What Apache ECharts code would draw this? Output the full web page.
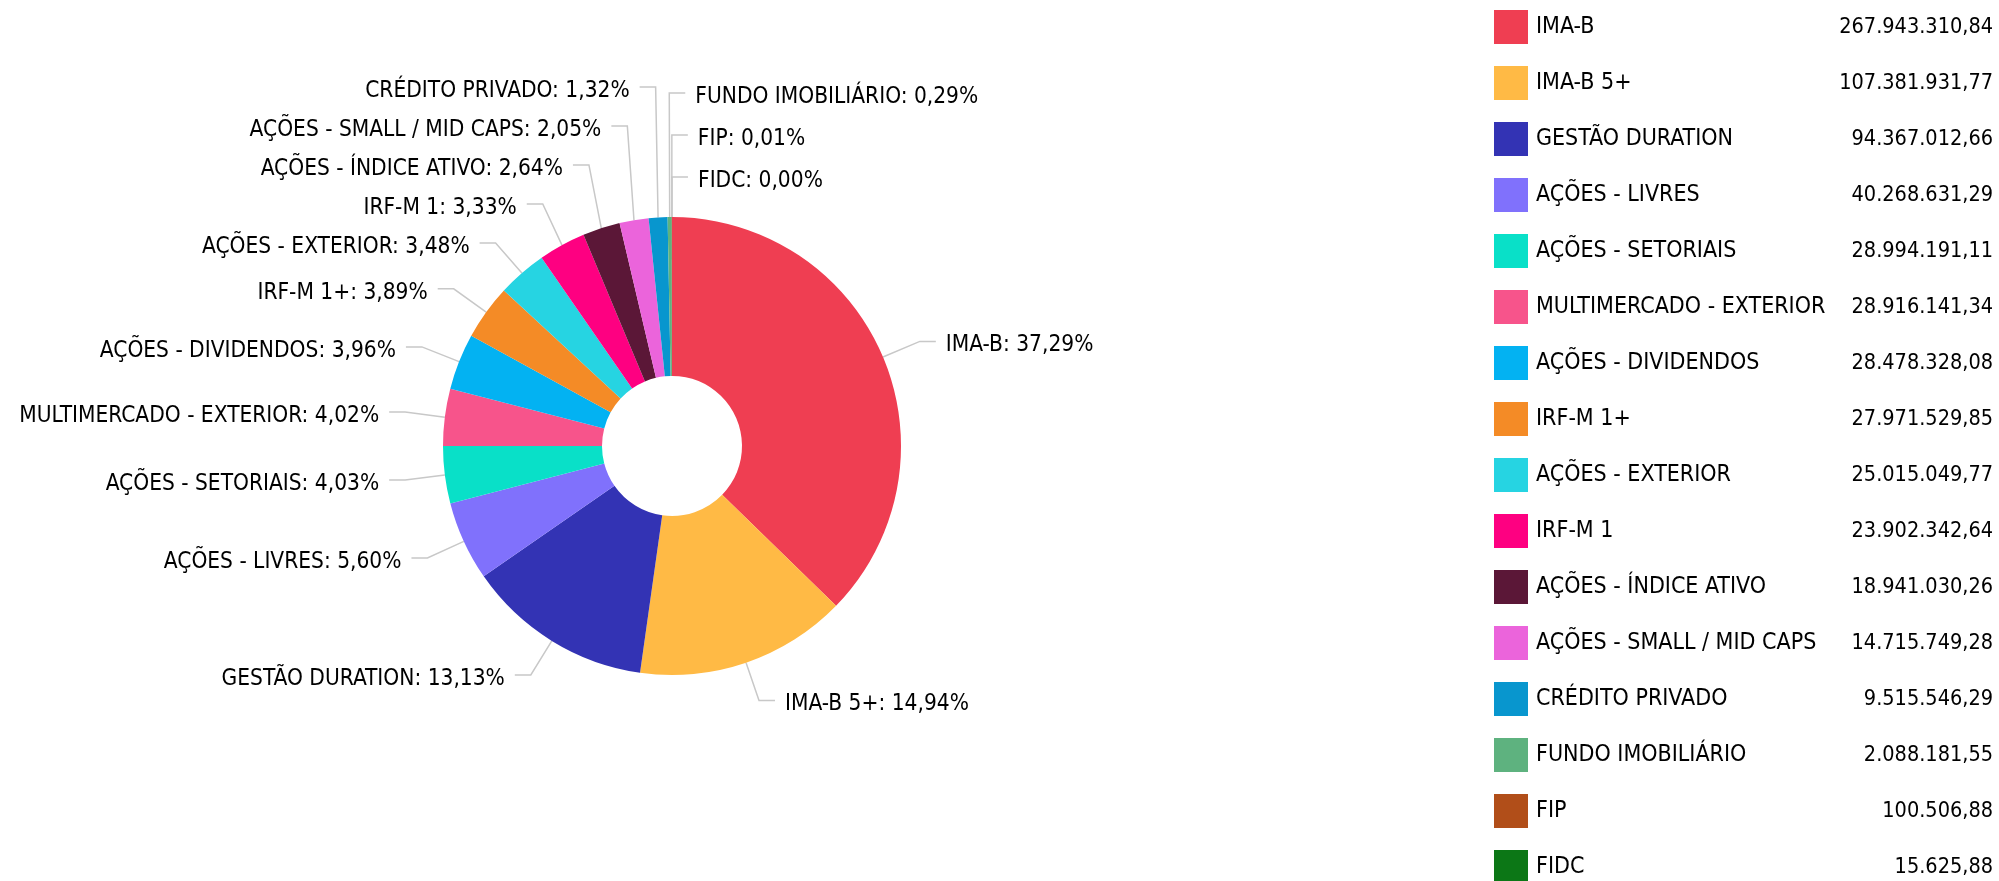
<!DOCTYPE html>
<html>
<head>
<meta charset="utf-8">
<title>Carteira por segmento</title>
<script src="https://cdn.jsdelivr.net/npm/echarts@6/dist/echarts.min.js"></script>
<style>
    html, body { margin: 0; padding: 0; background: #fff; }
    #pieChart { width: 1999px; height: 881px; }
</style>
</head>
<body>
<div id="pieChart"></div>
<script>
    // dados da carteira
    var segments = [
        'IMA-B', 'IMA-B 5+', 'GESTÃO DURATION', 'AÇÕES - LIVRES', 'AÇÕES - SETORIAIS',
        'MULTIMERCADO - EXTERIOR', 'AÇÕES - DIVIDENDOS', 'IRF-M 1+', 'AÇÕES - EXTERIOR', 'IRF-M 1',
        'AÇÕES - ÍNDICE ATIVO', 'AÇÕES - SMALL / MID CAPS', 'CRÉDITO PRIVADO', 'FUNDO IMOBILIÁRIO', 'FIP', 'FIDC'
    ];
    var amounts = [
        267943310.84, 107381931.77, 94367012.66, 40268631.29, 28994191.11,
        28916141.34, 28478328.08, 27971529.85, 25015049.77, 23902342.64,
        18941030.26, 14715749.28, 9515546.29, 2088181.55, 100506.88, 15625.88
    ];
    var colors = [
        '#ef3e52', '#ffba45', '#3333b4', '#8071fc', '#09e0c8',
        '#f7548b', '#03b2f2', '#f48b26', '#26d4e2', '#fe0081',
        '#5b1737', '#eb64db', '#0896ce', '#5eb27f', '#b14e19', '#0c7716'
    ];

    var FONT = "'DejaVu Sans Condensed', 'DejaVu Sans', sans-serif";
    var CX = 672, CY = 446, R_IN = 70, R_OUT = 229;
    var LEN1 = 40, LEN2 = 16, GAP = 10;
    var ROW_LEFT = 39, ROW_RIGHT = 42, TEXT_DY = 4;

    var total = amounts.reduce(function (s, v) { return s + v; }, 0);

    function fmtBR(v) {
        var parts = v.toFixed(2).split('.');
        var int = parts[0].replace(/\B(?=(\d{3})+(?!\d))/g, '.');
        return int + ',' + parts[1];
    }
    function pct(v) {
        return (v / total * 100).toFixed(2).replace('.', ',');
    }

    // posicoes dos rotulos: ponto na borda, cotovelo e lado (como no grafico original)
    function buildLabelPos() {
        var acc = 0;
        var items = amounts.map(function (v, i) {
            var a = (acc + v / 2) / total * 2 * Math.PI;
            acc += v;
            var s = Math.sin(a), c = Math.cos(a);
            return {
                i: i,
                a: a,
                right: s > -0.02,
                ex: CX + R_OUT * s,
                ey: CY - R_OUT * c,
                px: CX + (R_OUT + LEN1) * s,
                y: CY - (R_OUT + LEN1) * c
            };
        });
        [true, false].forEach(function (side) {
            var row = side ? ROW_RIGHT : ROW_LEFT;
            var list = items.filter(function (it) { return it.right === side; });
            list.sort(function (p, q) {
                if (side) {
                    var pa = p.a > Math.PI ? p.a - 2 * Math.PI : p.a;
                    var qa = q.a > Math.PI ? q.a - 2 * Math.PI : q.a;
                    return pa - qa;
                }
                return q.a - p.a;
            });
            // empurra para cima os rotulos que se sobrepoem
            for (var k = list.length - 2; k >= 0; k--) {
                if (list[k].y > list[k + 1].y - row) list[k].y = list[k + 1].y - row;
            }
        });
        return items;
    }
    var labelPos = buildLabelPos();

    var chart = echarts.init(document.getElementById('pieChart'));
    var option = {
        animation: false,
        color: colors,
        legend: {
            orient: 'vertical',
            left: 1494,
            top: 10,
            height: 1000,
            padding: 0,
            icon: 'rect',
            itemWidth: 34,
            itemHeight: 34,
            itemGap: 22,
            data: segments,
            formatter: function (name) {
                var v = amounts[segments.indexOf(name)];
                return '{n|' + name + '}{v|' + fmtBR(v) + '}';
            },
            textStyle: {
                color: '#000',
                fontFamily: FONT,
                fontSize: 23,
                rich: {
                    n: { width: 254, padding: [0, 0, 0, 3], fontSize: 23, fontFamily: FONT, color: '#000' },
                    v: { width: 203, align: 'right', fontSize: 21.5, fontFamily: FONT, color: '#000' }
                }
            }
        },
        series: [
            {
                type: 'pie',
                center: [CX, CY],
                radius: [R_IN, R_OUT],
                startAngle: 90,
                clockwise: true,
                avoidLabelOverlap: false,
                data: segments.map(function (n, i) {
                    return { name: n, value: amounts[i] };
                }),
                label: {
                    show: true,
                    position: 'outside',
                    color: '#000',
                    fontSize: 22.5,
                    fontFamily: FONT,
                    formatter: function (p) {
                        return p.name + ': ' + pct(p.value) + '%';
                    }
                },
                labelLine: {
                    show: true,
                    length: LEN1,
                    length2: LEN2,
                    lineStyle: { color: '#c8c8c8', width: 1.5 }
                },
                labelLayout: function (params) {
                    var lp = labelPos[params.dataIndex];
                    var dir = lp.right ? 1 : -1;
                    return {
                        x: lp.px + dir * (LEN2 + GAP),
                        y: lp.y + TEXT_DY,
                        align: lp.right ? 'left' : 'right',
                        verticalAlign: 'middle',
                        labelLinePoints: [
                            [lp.ex, lp.ey],
                            [lp.px, lp.y],
                            [lp.px + dir * LEN2, lp.y]
                        ]
                    };
                },
                emphasis: { scale: false }
            }
        ]
    };
    chart.setOption(option);
</script>
</body>
</html>
